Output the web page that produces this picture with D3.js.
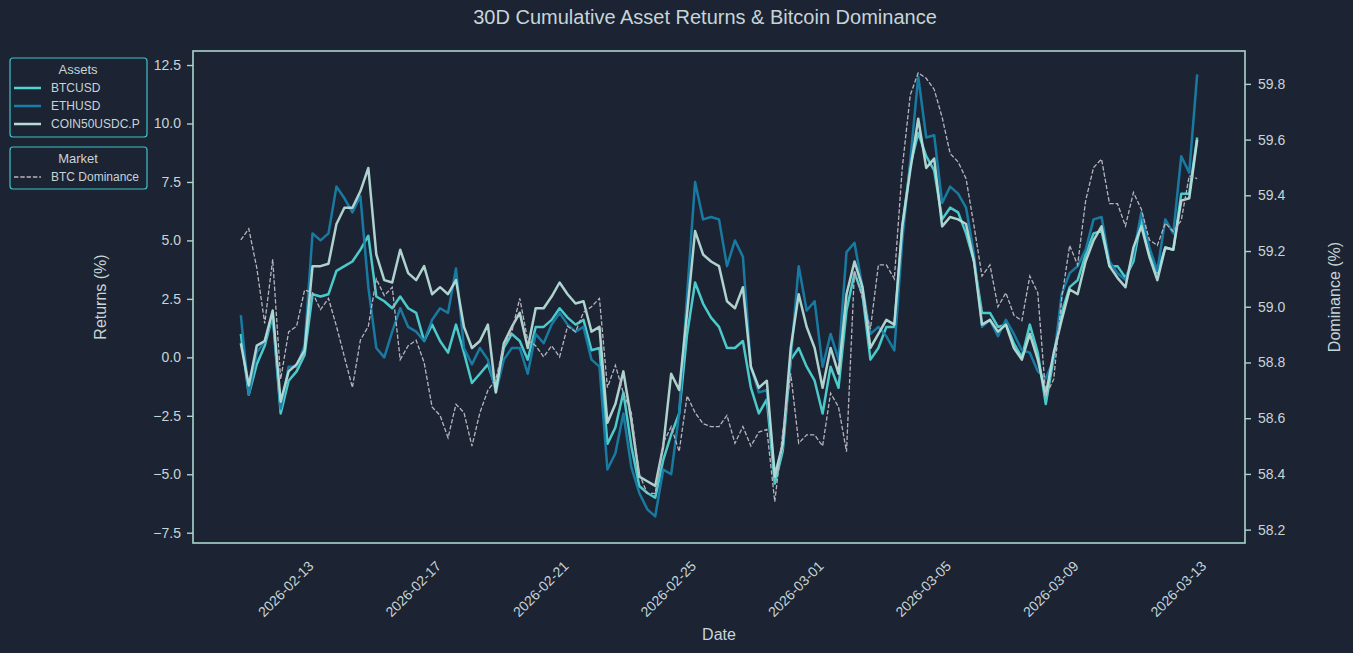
<!DOCTYPE html>
<html>
<head>
<meta charset="utf-8">
<script src="https://cdn.jsdelivr.net/npm/d3@7"></script>
<style>
	body { margin: 0; background: #1c2333; }
	text { font-family: "Liberation Sans", Arial, sans-serif; }
</style>
</head>
<body>
<svg></svg>
<script>
const width = 1353;
const height = 653;

// 6-hourly samples starting 2026-02-10 18:00 UTC
const startTime = '2026-02-10T18:00:00Z';
const stepHours = 6;

const btcusd = [
	1.0, -1.6, -0.3, 0.5, 1.8, -2.4, -1.0, -0.6, 0.1, 2.7,
	2.6, 2.7, 3.7, 3.9, 4.1, 4.6, 5.2, 2.6, 2.4, 2.1,
	2.6, 2.1, 1.9, 0.7, 1.4, 0.7, 0.2, 1.4, 0.2, -1.1,
	-0.7, -0.3, -1.3, 0.4, 1.0, 0.7, -0.1, 1.3, 1.3, 1.6,
	2.1, 1.7, 1.4, 1.6, 0.3, 0.4, -3.7, -3.0, -1.5, -3.8,
	-5.5, -5.8, -6.0, -4.4, -3.3, -2.4, 1.0, 3.2, 2.3, 1.7,
	1.3, 0.4, 0.4, 0.7, -1.3, -2.4, -1.8, -5.4, -4.0, -0.1,
	0.4, -0.4, -1.0, -2.4, -0.4, -1.3, 2.0, 3.6, 2.7, -0.1,
	0.4, 1.3, 1.3, 5.6, 8.2, 9.6, 8.6, 8.0, 5.9, 6.4,
	6.2, 5.3, 4.1, 1.9, 1.9, 1.3, 1.4, 0.6, 0.0, 1.4,
	0.2, -2.0, 0.0, 1.9, 3.0, 3.3, 4.4, 5.3, 5.4, 3.9,
	3.9, 3.4, 4.1, 5.9, 4.4, 3.6, 4.7, 4.6, 7.0, 7.0,
	9.4
];

const ethusd = [
	1.8, -1.6, 0.2, 0.7, 1.8, -2.2, -0.4, -0.4, 0.5, 5.3,
	5.0, 5.3, 7.3, 6.8, 6.2, 6.9, 3.0, 0.4, 0.0, 1.1,
	2.1, 1.3, 1.1, 0.7, 1.6, 2.1, 1.9, 3.8, 0.4, -0.3,
	0.4, -0.1, -1.5, -0.1, 0.4, 0.4, -0.7, 1.0, 0.6, 1.4,
	1.9, 1.4, 1.1, 1.3, -0.1, -0.4, -4.8, -4.1, -2.4, -4.7,
	-5.8, -6.5, -6.8, -4.8, -5.0, -2.4, 2.7, 7.5, 5.9, 6.0,
	5.9, 3.9, 5.0, 4.3, -0.4, -1.5, -1.4, -5.0, -3.8, -0.1,
	3.9, 2.0, 2.4, -0.4, 1.0, -0.1, 4.5, 4.9, 3.0, 1.0,
	1.3, 0.9, 0.3, 5.0, 8.4, 12.0, 9.4, 9.5, 6.6, 7.3,
	7.0, 6.4, 4.4, 1.3, 1.6, 0.9, 1.6, 1.0, 0.3, 0.2,
	-0.6, -0.9, -0.1, 2.7, 3.6, 3.9, 4.6, 5.9, 6.0, 4.1,
	3.6, 3.3, 4.4, 6.2, 4.7, 3.7, 5.9, 5.3, 8.6, 7.9,
	12.1
];

const coin50 = [
	0.6, -1.2, 0.5, 0.7, 2.0, -1.9, -0.6, -0.3, 0.3, 3.9,
	3.9, 4.0, 5.7, 6.4, 6.4, 7.1, 8.1, 4.4, 3.3, 3.2,
	4.6, 3.6, 3.3, 3.9, 2.7, 3.0, 2.7, 3.3, 1.3, 0.4,
	0.7, 1.4, -1.5, 0.6, 1.3, 1.9, 0.4, 2.1, 2.1, 2.6,
	3.2, 2.7, 2.3, 2.4, 1.1, 1.3, -2.8, -2.0, -0.6, -2.7,
	-5.1, -5.3, -5.5, -3.8, -0.7, -1.4, 1.9, 5.4, 4.4, 4.1,
	3.9, 2.4, 2.1, 3.0, -0.4, -1.3, -1.0, -5.1, -3.7, 0.4,
	2.7, 1.3, 0.4, -1.3, 0.4, -0.7, 2.7, 4.1, 3.0, 0.4,
	1.0, 1.6, 1.4, 5.6, 8.0, 10.2, 8.1, 8.5, 5.6, 6.0,
	5.9, 5.7, 4.1, 1.4, 1.6, 1.1, 1.4, 0.4, -0.1, 1.0,
	-0.1, -1.6, 0.2, 1.6, 2.9, 2.7, 4.1, 5.0, 5.6, 3.9,
	3.4, 3.0, 4.7, 5.6, 4.3, 3.3, 4.7, 4.6, 6.7, 6.8,
	9.3
];

const btcDominance = [
	59.24, 59.28, 59.14, 58.94, 59.17, 58.74, 58.91, 58.93, 59.06, 59.05,
	58.99, 59.03, 58.93, 58.82, 58.71, 58.88, 58.93, 59.10, 59.04, 59.07,
	58.81, 58.86, 58.88, 58.80, 58.64, 58.61, 58.53, 58.65, 58.62, 58.50,
	58.62, 58.70, 58.74, 58.86, 58.91, 59.03, 58.88, 58.86, 58.82, 58.86,
	58.82, 58.93, 58.91, 58.98, 59.00, 59.03, 58.71, 58.79, 58.69, 58.62,
	58.40, 58.33, 58.33, 58.51, 58.57, 58.48, 58.68, 58.62, 58.58, 58.57,
	58.57, 58.61, 58.51, 58.57, 58.50, 58.55, 58.56, 58.30, 58.55, 58.76,
	58.51, 58.54, 58.54, 58.50, 58.69, 58.64, 58.48, 59.13, 59.03, 58.92,
	59.15, 59.15, 59.10, 59.50, 59.76, 59.84, 59.82, 59.78, 59.68, 59.55,
	59.52, 59.46, 59.29, 59.11, 59.15, 59.00, 59.05, 58.97, 58.95, 59.11,
	59.05, 58.68, 58.74, 59.03, 59.22, 59.15, 59.38, 59.50, 59.53, 59.37,
	59.37, 59.29, 59.41, 59.35, 59.24, 59.22, 59.30, 59.27, 59.31, 59.47,
	59.46
];

const xTickLabels = ['2026-02-13', '2026-02-17', '2026-02-21', '2026-02-25', '2026-03-01', '2026-03-05', '2026-03-09', '2026-03-13'];
const returnTicks = [-7.5, -5.0, -2.5, 0.0, 2.5, 5.0, 7.5, 10.0, 12.5];
const dominanceTicks = [58.2, 58.4, 58.6, 58.8, 59.0, 59.2, 59.4, 59.6, 59.8];

const assets = [
	{ name: 'BTCUSD', values: btcusd, color: '#4fd3d3' },
	{ name: 'ETHUSD', values: ethusd, color: '#197fa8' },
	{ name: 'COIN50USDC.P', values: coin50, color: '#b6dcd6' }
];

const axisColor = '#a9d5cf';
const textColor = '#c6d5d8';
const domColor = '#b6b5bf';

const margin = { top: 51, right: 108, bottom: 110, left: 193 };

const svg = d3.select('svg')
	.attr('width', width)
	.attr('height', height);

const t0 = new Date(startTime);
const times = btcusd.map((d, i) => d3.utcHour.offset(t0, i * stepHours));

const x = d3.scaleUtc()
	.domain([new Date('2026-02-09T06:00:00Z'), new Date('2026-03-14T06:00:00Z')])
	.range([margin.left, width - margin.right]);
const yRet = d3.scaleLinear()
	.domain([-7.94, 13.1])
	.range([height - margin.bottom, margin.top]);
const yDom = d3.scaleLinear()
	.domain([58.152, 59.918])
	.range([height - margin.bottom, margin.top]);

const retLine = d3.line()
	.x((d, i) => x(times[i]))
	.y(d => yRet(d));
const domLine = d3.line()
	.x((d, i) => x(times[i]))
	.y(d => yDom(d));

// asset return lines
svg.selectAll('path.asset')
	.data(assets)
	.enter()
	.append('path')
	.attr('class', 'asset')
	.attr('fill', 'none')
	.attr('stroke', d => d.color)
	.attr('stroke-width', 2.5)
	.attr('stroke-linejoin', 'round')
	.attr('opacity', 0.95)
	.attr('d', d => retLine(d.values));

// dominance on the twin axis
svg.append('path')
	.attr('fill', 'none')
	.attr('stroke', domColor)
	.attr('stroke-width', 1.3)
	.attr('stroke-dasharray', '4.4,1.9')
	.attr('d', domLine(btcDominance));

// frame
svg.append('rect')
	.attr('x', margin.left)
	.attr('y', margin.top)
	.attr('width', width - margin.left - margin.right)
	.attr('height', height - margin.top - margin.bottom)
	.attr('fill', 'none')
	.attr('stroke', axisColor)
	.attr('stroke-width', 1.6);

const leftAxis = svg.append('g')
	.attr('transform', `translate(${margin.left},0)`)
	.call(d3.axisLeft(yRet).tickValues(returnTicks).tickFormat(d3.format('.1f')).tickSize(6).tickPadding(6));
const rightAxis = svg.append('g')
	.attr('transform', `translate(${width - margin.right},0)`)
	.call(d3.axisRight(yDom).tickValues(dominanceTicks).tickFormat(d3.format('.1f')).tickSize(6).tickPadding(7));

[leftAxis, rightAxis].forEach(g => {
	g.select('.domain').remove();
	g.selectAll('line').attr('stroke', axisColor).attr('stroke-width', 1.4);
	g.selectAll('text')
		.attr('fill', textColor)
		.style('font-size', '14px')
		.style('font-family', '"Liberation Sans", Arial, sans-serif');
});

// rotated date labels
svg.selectAll('text.xtick')
	.data(xTickLabels)
	.enter()
	.append('text')
	.attr('class', 'xtick')
	.attr('transform', d => `translate(${x(new Date(d + 'T00:00:00Z')) + 2},567) rotate(-45)`)
	.attr('text-anchor', 'end')
	.attr('fill', textColor)
	.style('font-size', '14px')
	.text(d => d);

svg.append('text')
	.attr('x', (margin.left + width - margin.right) / 2)
	.attr('y', 640)
	.attr('text-anchor', 'middle')
	.attr('fill', textColor)
	.style('font-size', '16px')
	.text('Date');

svg.append('text')
	.attr('transform', `translate(106,${(margin.top + height - margin.bottom) / 2}) rotate(-90)`)
	.attr('text-anchor', 'middle')
	.attr('fill', textColor)
	.style('font-size', '16px')
	.text('Returns (%)');

svg.append('text')
	.attr('transform', `translate(1340,${(margin.top + height - margin.bottom) / 2}) rotate(-90)`)
	.attr('text-anchor', 'middle')
	.attr('fill', textColor)
	.style('font-size', '16px')
	.text('Dominance (%)');

svg.append('text')
	.attr('x', 705)
	.attr('y', 24)
	.attr('text-anchor', 'middle')
	.attr('fill', textColor)
	.style('font-size', '20px')
	.text('30D Cumulative Asset Returns & Bitcoin Dominance');

// legends
const legendBorder = '#3fc3c8';

const assetLegend = svg.append('g');
assetLegend.append('rect')
	.attr('x', 10).attr('y', 58)
	.attr('width', 137).attr('height', 79)
	.attr('rx', 3)
	.attr('fill', '#1c2333')
	.attr('stroke', legendBorder)
	.attr('stroke-width', 1.2);
assetLegend.append('text')
	.attr('x', 78).attr('y', 74)
	.attr('text-anchor', 'middle')
	.attr('fill', textColor)
	.style('font-size', '13px')
	.text('Assets');
assets.forEach((a, i) => {
	const yy = 88 + i * 18;
	assetLegend.append('line')
		.attr('x1', 14).attr('x2', 41)
		.attr('y1', yy).attr('y2', yy)
		.attr('stroke', a.color)
		.attr('stroke-width', 2.5);
	assetLegend.append('text')
		.attr('x', 51).attr('y', yy + 4)
		.attr('fill', textColor)
		.style('font-size', '12px')
		.text(a.name);
});

const marketLegend = svg.append('g');
marketLegend.append('rect')
	.attr('x', 10).attr('y', 147)
	.attr('width', 137).attr('height', 42)
	.attr('rx', 3)
	.attr('fill', '#1c2333')
	.attr('stroke', legendBorder)
	.attr('stroke-width', 1.2);
marketLegend.append('text')
	.attr('x', 78).attr('y', 163)
	.attr('text-anchor', 'middle')
	.attr('fill', textColor)
	.style('font-size', '13px')
	.text('Market');
marketLegend.append('line')
	.attr('x1', 14).attr('x2', 41)
	.attr('y1', 177).attr('y2', 177)
	.attr('stroke', domColor)
	.attr('stroke-width', 1.3)
	.attr('stroke-dasharray', '4.4,1.9');
marketLegend.append('text')
	.attr('x', 51).attr('y', 181)
	.attr('text-anchor', 'start')
	.attr('fill', textColor)
	.style('font-size', '12px')
	.text('BTC Dominance');
</script>
</body>
</html>
